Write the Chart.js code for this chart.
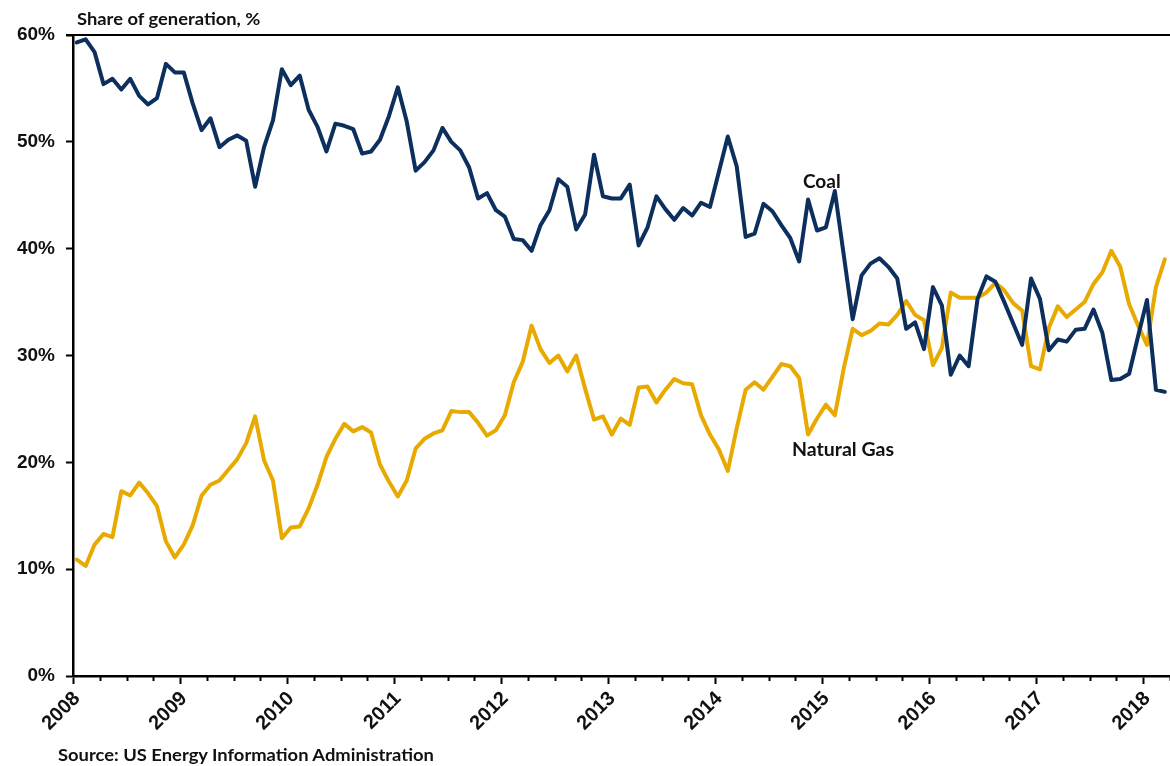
<!DOCTYPE html>
<html>
<head>
<meta charset="utf-8">
<title>US electricity generation: coal vs natural gas</title>
<script src="https://cdn.jsdelivr.net/npm/chart.js@4/dist/chart.umd.min.js"></script>
<style>
  html, body { margin: 0; padding: 0; background: #fff; }
  #wrap { position: relative; width: 1170px; height: 766px; overflow: hidden; }
  #chart { position: absolute; left: 0; top: 0; }
  .txt { position: absolute; font-family: Lato, "Noto Sans", sans-serif; font-weight: 700; color: #111; white-space: nowrap; line-height: 1; transform-origin: 0 0; }
  #title { left: 77px; top: 10px; font-size: 17px; transform: scaleX(1.08); }
  #source { left: 58px; top: 746px; font-size: 17px; transform: scaleX(1.08); }
  #lblCoal { left: 803px; top: 171px; font-size: 19px; }
  #lblGas { left: 792px; top: 439px; font-size: 19.5px; }
</style>
</head>
<body>
<div id="wrap">
  <canvas id="chart" width="1170" height="766"></canvas>
  <div class="txt" id="title">Share of generation, %</div>
  <div class="txt" id="lblCoal">Coal</div>
  <div class="txt" id="lblGas">Natural Gas</div>
  <div class="txt" id="source">Source: US Energy Information Administration</div>
</div>
<script>
// Monthly share of US electricity generation, Jan 2008 – Mar 2018 (%)
const firstYear = 2008;
const yearLabels = ['2008','2009','2010','2011','2012','2013','2014','2015','2016','2017','2018'];
const yTicks = [0, 10, 20, 30, 40, 50, 60];

const coal = [
  59.3, 59.6, 58.4, 55.4, 55.9, 54.9, 55.9, 54.3, 53.5, 54.1, 57.3, 56.5,
  56.5, 53.6, 51.1, 52.2, 49.5, 50.2, 50.6, 50.1, 45.8, 49.5, 52.0, 56.8,
  55.3, 56.2, 53.0, 51.4, 49.1, 51.7, 51.5, 51.2, 48.9, 49.1, 50.2, 52.4,
  55.1, 51.9, 47.3, 48.1, 49.2, 51.3, 50.0, 49.2, 47.6, 44.7, 45.2, 43.6,
  43.0, 40.9, 40.8, 39.8, 42.2, 43.6, 46.5, 45.8, 41.8, 43.2, 48.8, 44.9,
  44.7, 44.7, 46.0, 40.3, 42.0, 44.9, 43.7, 42.7, 43.8, 43.1, 44.3, 43.9,
  47.2, 50.5, 47.7, 41.1, 41.4, 44.2, 43.5, 42.2, 41.0, 38.8, 44.6, 41.7,
  42.0, 45.4, 39.4, 33.4, 37.5, 38.6, 39.1, 38.3, 37.2, 32.5, 33.1, 30.6,
  36.4, 34.7, 28.2, 30.0, 29.0, 35.3, 37.4, 36.9, 35.0, 33.0, 31.0, 37.2,
  35.3, 30.5, 31.5, 31.3, 32.4, 32.5, 34.3, 32.1, 27.7, 27.8, 28.3, 31.8,
  35.2, 26.8, 26.6
];

const naturalGas = [
  10.9, 10.3, 12.3, 13.3, 13.0, 17.3, 16.9, 18.1, 17.1, 15.9, 12.6, 11.1,
  12.3, 14.1, 16.9, 17.9, 18.3, 19.3, 20.3, 21.8, 24.3, 20.2, 18.3, 12.9,
  13.9, 14.0, 15.7, 17.9, 20.5, 22.2, 23.6, 22.9, 23.3, 22.8, 19.8, 18.2,
  16.8, 18.3, 21.3, 22.2, 22.7, 23.0, 24.8, 24.7, 24.7, 23.7, 22.5, 23.0,
  24.4, 27.5, 29.4, 32.8, 30.6, 29.3, 30.0, 28.5, 30.0, 26.9, 24.0, 24.3,
  22.6, 24.1, 23.5, 27.0, 27.1, 25.6, 26.8, 27.8, 27.4, 27.3, 24.4, 22.6,
  21.2, 19.2, 23.2, 26.8, 27.5, 26.8, 28.0, 29.2, 29.0, 27.9, 22.6, 24.1,
  25.4, 24.4, 28.8, 32.5, 31.9, 32.3, 33.0, 32.9, 33.8, 35.1, 33.8, 33.3,
  29.1, 30.7, 35.9, 35.4, 35.4, 35.4, 35.9, 36.8, 36.1, 34.9, 34.2, 29.0,
  28.7, 32.6, 34.6, 33.6, 34.3, 35.0, 36.7, 37.8, 39.8, 38.3, 34.8, 32.8,
  31.0, 36.4, 39.0
];

// x is measured in months from Jan 2008; each monthly value sits mid-month
const MID_MONTH = 0.42;
const toPoints = arr => arr.map((v, i) => ({ x: i + MID_MONTH, y: v }));

const AXIS_LEFT = 73;      // y-axis line position
const PLOT_BOTTOM = 676;   // x-axis line position
const PLOT_TOP = 35;

// Top frame line plus short quarterly ticks under the x axis
const framePlugin = {
  id: 'frame',
  afterDraw(chart) {
    const { ctx, chartArea: { left, right, top, bottom }, scales: { x } } = chart;
    ctx.save();
    ctx.strokeStyle = '#000';
    ctx.lineWidth = 2;
    ctx.beginPath();
    ctx.moveTo(left - 7, top);
    ctx.lineTo(right, top);
    ctx.stroke();
    ctx.beginPath();
    for (let m = 3; m <= x.max; m += 3) {
      if (m % 12 === 0) continue;
      const px = Math.round(x.getPixelForValue(m)) + 0.5;
      ctx.moveTo(px, bottom);
      ctx.lineTo(px, bottom + 5);
    }
    ctx.stroke();
    ctx.restore();
  }
};

const yFont = { family: '"Liberation Sans", Arial, sans-serif', size: 19, weight: 'bold' };
const xFont = { family: '"Liberation Sans", Arial, sans-serif', size: 20, weight: 'bold' };

new Chart(document.getElementById('chart'), {
  type: 'line',
  data: {
    datasets: [
      {
        label: 'Coal',
        data: toPoints(coal),
        borderColor: '#0d2f5d',
        borderWidth: 4,
        pointRadius: 0,
        tension: 0,
        borderJoinStyle: 'round',
        borderCapStyle: 'round'
      },
      {
        label: 'Natural Gas',
        data: toPoints(naturalGas),
        borderColor: '#e8aa00',
        borderWidth: 4,
        pointRadius: 0,
        tension: 0,
        borderJoinStyle: 'round',
        borderCapStyle: 'round'
      }
    ]
  },
  options: {
    responsive: false,
    animation: false,
    devicePixelRatio: 1,
    layout: { padding: { top: PLOT_TOP, right: 0, bottom: 0, left: 0 } },
    plugins: { legend: { display: false }, tooltip: { enabled: false } },
    scales: {
      x: {
        type: 'linear',
        min: 0,
        max: 123,
        afterBuildTicks: scale => {
          scale.ticks = yearLabels.map((_, i) => ({ value: i * 12 }));
        },
        afterFit: scale => { scale.height = 766 - PLOT_BOTTOM; },
        grid: { drawOnChartArea: false, drawTicks: true, tickLength: 8, tickColor: '#000', tickWidth: 2 },
        border: { display: true, color: '#000', width: 2.5 },
        ticks: {
          autoSkip: false,
          minRotation: 45,
          maxRotation: 45,
          padding: 3,
          labelOffset: 4,
          color: '#111',
          font: xFont,
          callback: v => yearLabels[Math.round(v / 12)]
        }
      },
      y: {
        min: 0,
        max: 60,
        afterBuildTicks: scale => {
          scale.ticks = yTicks.map(v => ({ value: v }));
        },
        afterFit: scale => { scale.width = AXIS_LEFT; },
        grid: { drawOnChartArea: false, drawTicks: true, tickLength: 7, tickColor: '#000', tickWidth: 2 },
        border: { display: true, color: '#000', width: 2.5 },
        ticks: {
          padding: 11,
          color: '#111',
          font: yFont,
          callback: v => v + '%'
        }
      }
    }
  },
  plugins: [framePlugin]
});
</script>
</body>
</html>
